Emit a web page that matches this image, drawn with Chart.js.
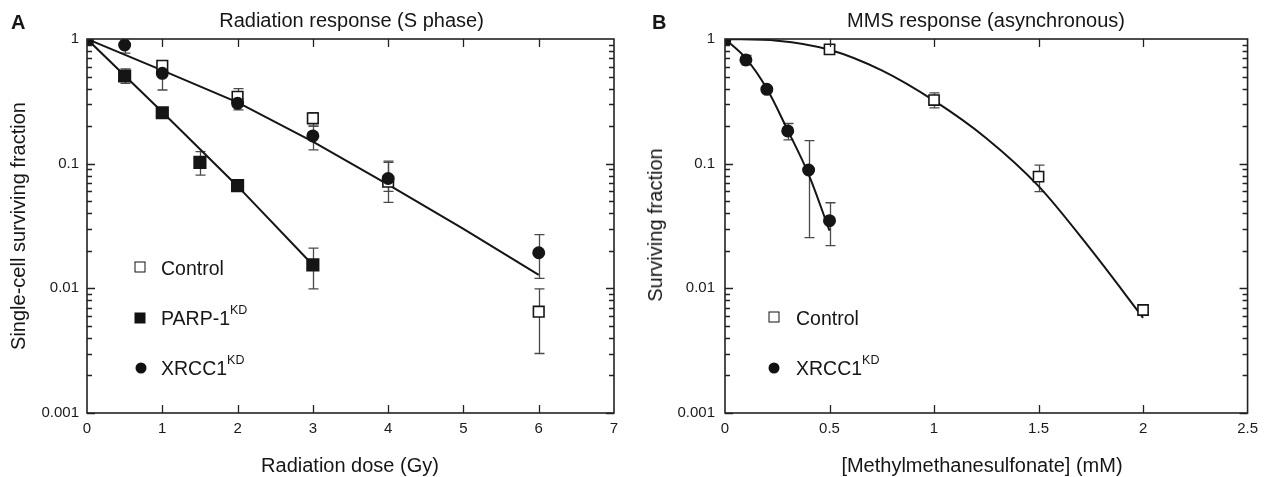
<!DOCTYPE html>
<html><head><meta charset="utf-8">
<script src="https://cdn.jsdelivr.net/npm/chart.js@4.4.0/dist/chart.umd.min.js"></script>
<style>
html,body{margin:0;padding:0;background:#fff;}
body{width:1265px;height:477px;position:relative;overflow:hidden;font-family:"Liberation Sans",Arial,sans-serif;color:#161616;}
canvas{position:absolute;top:0;}
.t{position:absolute;white-space:nowrap;line-height:1;}
.title{font-size:20px;transform:translateX(-50%);}
.axt{font-size:20px;transform:translateX(-50%);}
.ayt{font-size:20px;transform:translate(-50%,-50%) rotate(-90deg);}
.letter{font-size:20px;font-weight:bold;}
.leg{font-size:19.5px;}
.leg sup{font-size:12.5px;vertical-align:baseline;position:relative;top:-11px;}
.mk{position:absolute;box-sizing:border-box;transform:translate(-50%,-50%);}
.sqo{width:11px;height:11px;border:1.6px solid #111;background:#fff;}
.sqf{width:11px;height:11px;background:#111;}
.cir{width:11px;height:11px;border-radius:50%;background:#111;}
</style></head><body>
<canvas id="cA" width="632" height="477" style="left:0"></canvas>
<canvas id="cB" width="633" height="477" style="left:632px"></canvas>

<div class="t letter" style="left:11px;top:12px">A</div>
<div class="t letter" style="left:652px;top:12px">B</div>
<div class="t title" style="left:351.5px;top:10px">Radiation response (S phase)</div>
<div class="t title" style="left:986px;top:10px">MMS response (asynchronous)</div>
<div class="t axt" style="left:350px;top:455px">Radiation dose (Gy)</div>
<div class="t axt" style="left:982px;top:455px">[Methylmethanesulfonate] (mM)</div>
<div class="t ayt" style="left:18px;top:226px">Single-cell surviving fraction</div>
<div class="t ayt" style="left:655px;top:225px">Surviving fraction</div>

<div class="mk sqo" style="left:140px;top:267px"></div>
<div class="t leg" style="left:161px;top:259px">Control</div>
<div class="mk sqf" style="left:140px;top:318px"></div>
<div class="t leg" style="left:161px;top:309px">PARP-1<sup>KD</sup></div>
<div class="mk cir" style="left:141px;top:368px"></div>
<div class="t leg" style="left:161px;top:359px">XRCC1<sup>KD</sup></div>

<div class="mk sqo" style="left:774px;top:317px"></div>
<div class="t leg" style="left:796px;top:309px">Control</div>
<div class="mk cir" style="left:774px;top:368px"></div>
<div class="t leg" style="left:796px;top:359px">XRCC1<sup>KD</sup></div>

<script>
// ---- tick values / labels ----
const yTickValues = [0.001, 0.01, 0.1, 1];
const yTickLabels = ['0.001', '0.01', '0.1', '1'];
const xTicksA = [0, 1, 2, 3, 4, 5, 6, 7];
const xTickLabelsA = ['0', '1', '2', '3', '4', '5', '6', '7'];
const xTicksB = [0, 0.5, 1, 1.5, 2, 2.5];
const xTickLabelsB = ['0', '0.5', '1', '1.5', '2', '2.5'];

// ---- Panel A: radiation response (S phase) ----
const ctrlA_dose = [0, 1, 2, 3, 4, 6];
const ctrlA_sf   = [1, 0.61, 0.344, 0.231, 0.0716, 0.0065];
const ctrlA_lo   = [1, 0.56, 0.29, 0.20, 0.049, 0.003];
const ctrlA_hi   = [1, 0.66, 0.40, 0.256, 0.1026, 0.0099];

const parpA_dose = [0, 0.5, 1, 1.5, 2, 3];
const parpA_sf   = [1, 0.505, 0.256, 0.1025, 0.0666, 0.0154];
const parpA_lo   = [1, 0.44, 0.235, 0.081, 0.063, 0.0099];
const parpA_hi   = [1, 0.575, 0.28, 0.125, 0.070, 0.021];

const xrccA_dose = [0, 0.5, 1, 2, 3, 4, 6];
const xrccA_sf   = [1, 0.895, 0.53, 0.305, 0.167, 0.076, 0.0193];
const xrccA_lo   = [1, 0.77, 0.39, 0.27, 0.129, 0.06, 0.012];
const xrccA_hi   = [1, 0.90, 0.58, 0.33, 0.20, 0.105, 0.027];

const fitA1_dose = [0, 1, 2, 3, 4, 5, 6];
const fitA1_sf   = [1, 0.56, 0.31, 0.15, 0.068, 0.030, 0.0128];
const fitA2_dose = [0, 1, 2, 3];
const fitA2_sf   = [1, 0.26, 0.066, 0.0154];

// ---- Panel B: MMS response (asynchronous) ----
const ctrlB_mms = [0, 0.5, 1, 1.5, 2];
const ctrlB_sf  = [1, 0.826, 0.324, 0.0787, 0.0067];
const ctrlB_lo  = [1, 0.79, 0.28, 0.0596, 0.0064];
const ctrlB_hi  = [1, 0.89, 0.37, 0.0975, 0.0069];

const xrccB_mms = [0, 0.1, 0.2, 0.3, 0.4, 0.5];
const xrccB_sf  = [1, 0.68, 0.395, 0.183, 0.089, 0.0349];
const xrccB_lo  = [1, 0.62, 0.38, 0.155, 0.0255, 0.022];
const xrccB_hi  = [1, 0.74, 0.41, 0.21, 0.153, 0.0486];

const fitB1_mms = [0, 0.25, 0.5, 0.75, 1, 1.25, 1.5, 1.75, 2];
const fitB1_sf  = [1, 0.97, 0.82, 0.56, 0.32, 0.16, 0.066, 0.0205, 0.0058];
const fitB2_mms = [0, 0.1, 0.2, 0.3, 0.4, 0.5];
const fitB2_sf  = [1, 0.70, 0.40, 0.185, 0.082, 0.029];

const pts = (xs, ys) => xs.map((x, i) => ({x: x, y: ys[i]}));
const INK = '#151515';
const FONT = 'Liberation Sans';

const framePlugin = {
  id: 'frame',
  beforeDatasetsDraw(chart) {
    const ctx = chart.ctx, xs = chart.scales.x, ys = chart.scales.y;
    ctx.save();
    ctx.strokeStyle = '#4a4a4a';
    ctx.lineWidth = 1.3;
    chart.data.datasets.forEach((ds) => {
      if (!ds.errLo) return;
      ds.data.forEach((p, j) => {
        const lo = ds.errLo[j], hi = ds.errHi[j];
        if (lo == null || hi == null || lo === hi) return;
        const x = Math.round(xs.getPixelForValue(p.x)) + 0.5;
        const y1 = ys.getPixelForValue(lo), y2 = ys.getPixelForValue(hi);
        ctx.beginPath();
        ctx.moveTo(x, y1); ctx.lineTo(x, y2);
        ctx.moveTo(x - 5, y1); ctx.lineTo(x + 5, y1);
        ctx.moveTo(x - 5, y2); ctx.lineTo(x + 5, y2);
        ctx.stroke();
      });
    });
    ctx.restore();
  },
  afterDraw(chart) {
    const ctx = chart.ctx, a = chart.chartArea, xs = chart.scales.x, ys = chart.scales.y;
    ctx.save();
    ctx.strokeStyle = '#222';
    ctx.lineWidth = 1.6;
    ctx.strokeRect(a.left, a.top, a.right - a.left, a.bottom - a.top);
    ctx.lineWidth = 1.3;
    ctx.beginPath();
    xs.ticks.forEach(t => {
      const x = Math.round(xs.getPixelForValue(t.value)) + 0.5;
      if (x <= a.left + 2 || x >= a.right - 2) return;
      ctx.moveTo(x, a.bottom); ctx.lineTo(x, a.bottom - 8);
      ctx.moveTo(x, a.top); ctx.lineTo(x, a.top + 8);
    });
    for (let e = -3; e < 0; e++) {
      for (let m = 1; m < 10; m++) {
        const v = m * Math.pow(10, e);
        const y = Math.round(ys.getPixelForValue(v)) + 0.5;
        const len = m === 1 ? 8 : 5;
        ctx.moveTo(a.left, y); ctx.lineTo(a.left + len, y);
        ctx.moveTo(a.right, y); ctx.lineTo(a.right - len, y);
      }
    }
    ctx.stroke();
    ctx.restore();
  }
};

function scalesCfg(xMax, xTicks, xLabels, yWidth, yPad) {
  return {
    x: {
      type: 'linear', min: 0, max: xMax,
      afterBuildTicks: s => { s.ticks = xTicks.map(v => ({value: v})); },
      ticks: { callback: (v, i) => xLabels[i], font: {family: FONT, size: 15}, color: '#1a1a1a', padding: 7, autoSkip: false, maxRotation: 0 },
      grid: { display: false, drawTicks: false },
      border: { display: false },
      afterFit: s => { s.height = 64; }
    },
    y: {
      type: 'logarithmic', min: 0.001, max: 1,
      afterBuildTicks: s => { s.ticks = yTickValues.map(v => ({value: v})); },
      ticks: { callback: (v, i) => yTickLabels[i], font: {family: FONT, size: 15}, color: '#1a1a1a', padding: yPad, autoSkip: false },
      grid: { display: false, drawTicks: false },
      border: { display: false },
      afterFit: s => { s.width = yWidth; }
    }
  };
}

function markerDs(data, style, radius, bg, lo, hi, order) {
  return { data: data, showLine: false, pointStyle: style, pointRadius: radius,
    pointBackgroundColor: bg, pointBorderColor: INK, pointBorderWidth: 1.6,
    errLo: lo, errHi: hi, order: order };
}
function lineDs(data, smooth) {
  return { data: data, showLine: true, pointRadius: 0, borderColor: INK, borderWidth: 2,
    cubicInterpolationMode: smooth ? 'monotone' : 'default', tension: 0, order: 10, fill: false };
}

const common = {
  responsive: false, animation: false, events: [],
  plugins: { legend: { display: false }, tooltip: { enabled: false } }
};

new Chart(document.getElementById('cA'), {
  type: 'scatter',
  data: { datasets: [
    lineDs(pts(fitA1_dose, fitA1_sf), false),
    lineDs(pts(fitA2_dose, fitA2_sf), false),
    markerDs(pts(ctrlA_dose, ctrlA_sf), 'rect', 7.5, '#fff', ctrlA_lo, ctrlA_hi, 3),
    markerDs(pts(xrccA_dose, xrccA_sf), 'circle', 5.7, INK, xrccA_lo, xrccA_hi, 2),
    markerDs(pts(parpA_dose, parpA_sf), 'rect', 8.2, INK, parpA_lo, parpA_hi, 1)
  ]},
  options: Object.assign({}, common, {
    layout: { padding: { top: 39, right: 18, left: 0, bottom: 0 } },
    scales: scalesCfg(7, xTicksA, xTickLabelsA, 87, 8)
  }),
  plugins: [framePlugin]
});

new Chart(document.getElementById('cB'), {
  type: 'scatter',
  data: { datasets: [
    lineDs(pts(fitB1_mms, fitB1_sf), true),
    lineDs(pts(fitB2_mms, fitB2_sf), true),
    markerDs(pts(ctrlB_mms, ctrlB_sf), 'rect', 7.2, ctrlB_mms.map(v => v === 0 ? INK : '#fff'), ctrlB_lo, ctrlB_hi, 2),
    markerDs(pts(xrccB_mms, xrccB_sf), 'circle', 5.7, INK, xrccB_lo, xrccB_hi, 1)
  ]},
  options: Object.assign({}, common, {
    layout: { padding: { top: 39, right: 17, left: 0, bottom: 0 } },
    scales: scalesCfg(2.5, xTicksB, xTickLabelsB, 93, 10)
  }),
  plugins: [framePlugin]
});
</script>
</body></html>
